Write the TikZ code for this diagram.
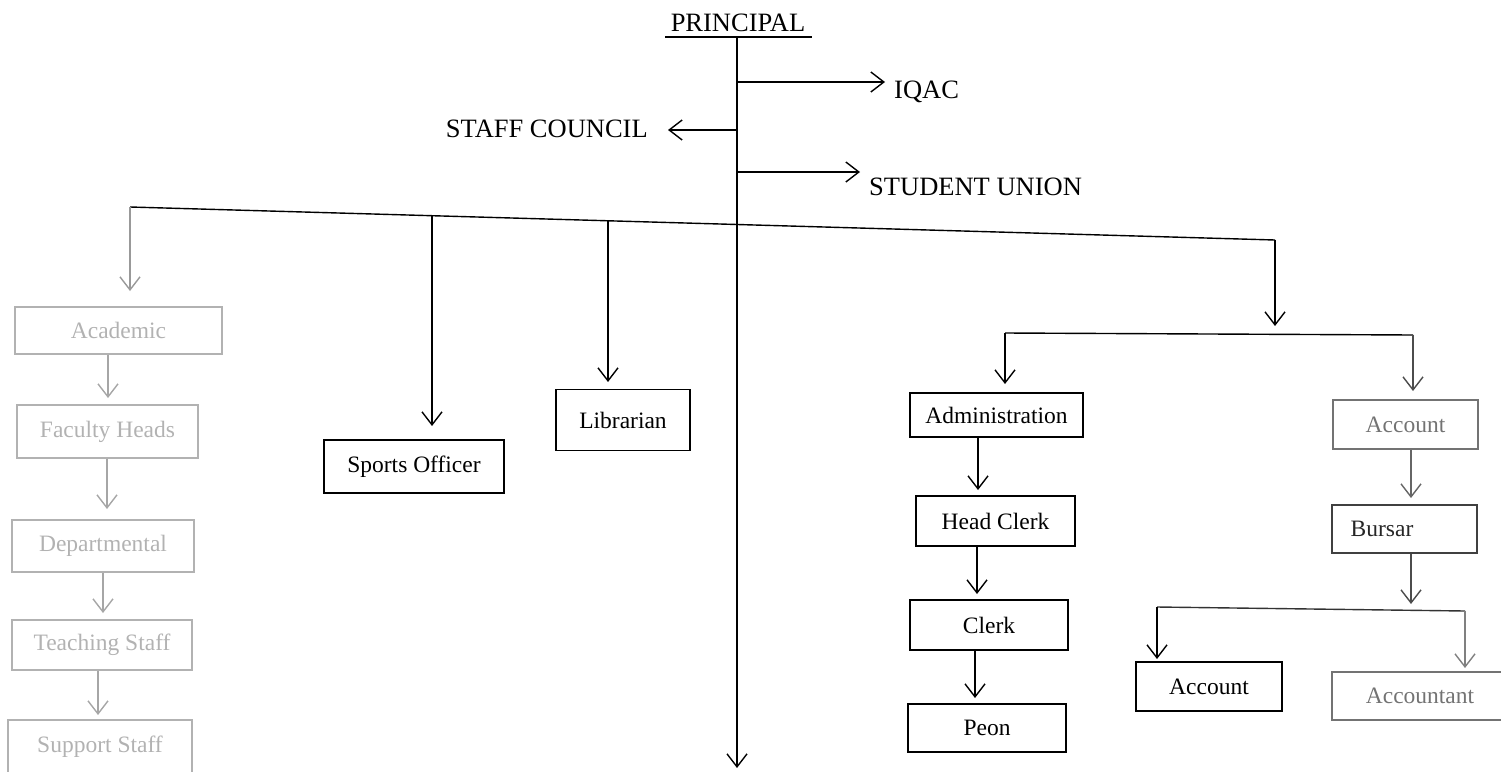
\documentclass[tikz,border=0pt]{standalone}
\usepackage{fontspec}
\setmainfont{Liberation Serif}
\usetikzlibrary{arrows.meta,calc}
\begin{document}
\begin{tikzpicture}[x=1pt,y=-1pt,
  box/.style={draw, line width=1.4pt, inner sep=0pt, font=\fontsize{23.5}{28}\selectfont},
  ln/.style={line width=1.4pt},
  arr/.style={line width=1.4pt, -{Straight Barb[length=13pt,width=20pt,line width=1.4pt]}},
  faint/.style={draw=black!30, text=black!30},
  mid/.style={draw=black!55, text=black!55},
  lab/.style={font=\fontsize{26.5}{31}\selectfont, inner sep=0pt}]
\useasboundingbox (0,0) rectangle (1501,771);

% top labels
\node[lab, anchor=base] (prin) at (738,31) {PRINCIPAL};
\node[lab, anchor=west] (iqac) at (894,92) {IQAC};
\node[lab, anchor=east] (staff) at (648,129) {STAFF COUNCIL};
\node[lab, anchor=west] (union) at (869,187) {STUDENT UNION};

\coordinate (ul) at (665,37);
\coordinate (ur) at (812,37);
\coordinate (top) at (737,37);
\coordinate (bot) at (737,768);
\coordinate (jq) at (737,82);
\coordinate (js) at (737,130);
\coordinate (ju) at (737,172);

\draw[ln] (ul) -- (ur);
\draw[arr] (top) -- (bot);
\draw[arr] (jq) -- (885,82);
\draw[arr] (js) -- (668,130);
\draw[arr] (ju) -- (860,172);

% boxes: left column (faded)
\node[box, faint, minimum width=207pt, minimum height=47pt] (acad) at (118.5,330.5) {Academic};
\node[box, faint, minimum width=181pt, minimum height=53pt] (fac) at (107.5,431.5) {Faculty Heads};
\node[box, faint, minimum width=182pt, minimum height=52pt] (dept) at (103,546) {Departmental};
\node[box, faint, minimum width=180pt, minimum height=50pt] (teach) at (102,645) {Teaching Staff};
\node[box, faint, minimum width=184pt, minimum height=54pt] (supp) at (100,747) {Support Staff};

% middle
\node[box, minimum width=180pt, minimum height=53pt] (sports) at (414,466.5) {Sports Officer};
\node[box, minimum width=134pt, minimum height=61pt] (lib) at (623,420) {Librarian};

% administration column
\node[box, minimum width=173pt, minimum height=44pt] (admin) at (996.5,415) {Administration};
\node[box, minimum width=159pt, minimum height=50pt] (head) at (995.5,521) {Head Clerk};
\node[box, minimum width=158pt, minimum height=50pt] (clerk) at (989,625) {Clerk};
\node[box, minimum width=158pt, minimum height=48pt] (peon) at (987,728) {Peon};

% account column
\node[box, mid, minimum width=145pt, minimum height=49pt] (acc1) at (1405.5,424.5) {Account};
\node[box, draw=black!75, text=black!85, minimum width=145pt, minimum height=48pt] (bursar) at (1404.5,529) {Bursar\kern45pt};
\node[box, minimum width=146pt, minimum height=49pt] (acc2) at (1209,686.5) {Account};
\node[box, mid, minimum width=176pt, minimum height=48pt] (accnt) at (1420,696) {Accountant};

% main branch bar (slightly tilted as in the scan)
\coordinate (b1) at (130,207);
\coordinate (b2) at (1275,240);
\coordinate (b3) at (432,215.7);
\coordinate (b4) at (608,220.8);
\draw[ln] (b1) -- (b2);
\draw[arr, draw=black!40] (b1) -- (130,291);
\draw[arr] (b3) -- (432,426);
\draw[arr] (b4) -- (608,382);
\draw[arr] (b2) -- (1275,326);

% left column arrows
\draw[arr, draw=black!35] (acad.south -| 108,0) -- (108,398);
\draw[arr, draw=black!35] (fac.south -| 107,0) -- (107,509);
\draw[arr, draw=black!35] (dept.south -| 103,0) -- (103,613);
\draw[arr, draw=black!35] (teach.south -| 98,0) -- (98,715);

% second branch
\coordinate (c1) at (1005,333);
\coordinate (c2) at (1413,335);
\draw[ln] (c1) -- (c2);
\draw[arr] (c1) -- (1005,384);
\draw[arr, draw=black!70] (c2) -- (1413,391);

% administration chain
\draw[arr] (admin.south -| 978,0) -- (978,490);
\draw[arr] (head.south -| 977,0) -- (977,594);
\draw[arr] (clerk.south -| 975,0) -- (975,698);

% account chain
\draw[arr, draw=black!60] (acc1.south -| 1411,0) -- (1411,498);
\draw[arr, draw=black!70] (bursar.south -| 1411,0) -- (1411,604);
\coordinate (d1) at (1157,607);
\coordinate (d2) at (1465,611);
\draw[ln, draw=black!80] (d1) -- (d2);
\draw[arr] (d1) -- (1157,659);
\draw[arr, draw=black!50] (d2) -- (1465,668);
\end{tikzpicture}
\end{document}
